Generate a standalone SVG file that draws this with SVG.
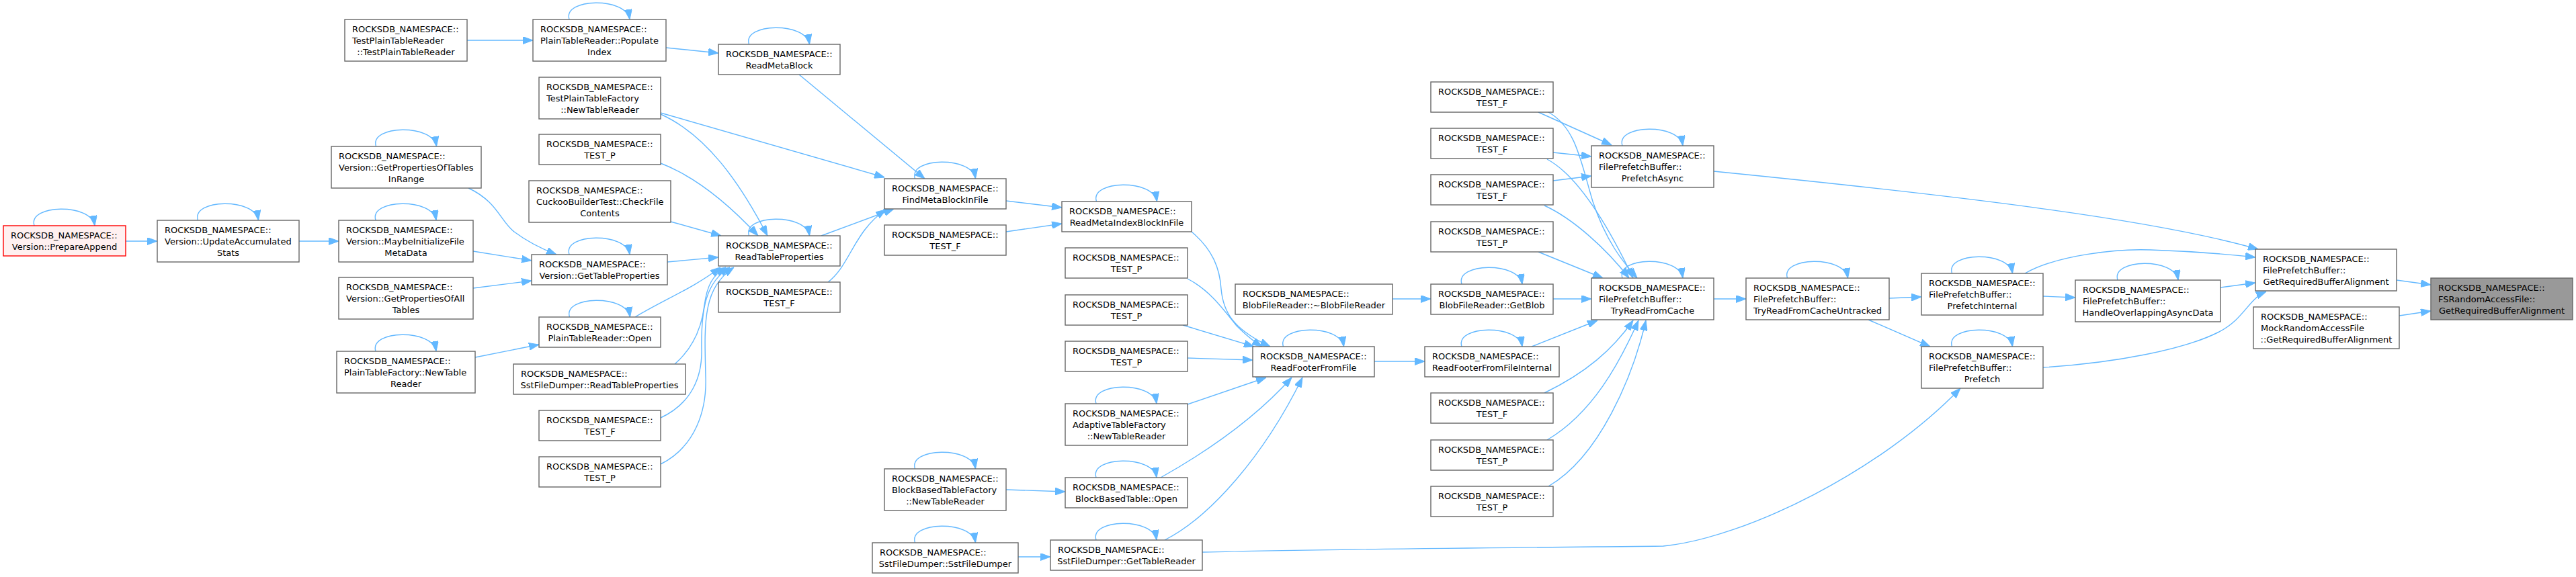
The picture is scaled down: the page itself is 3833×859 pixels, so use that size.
<svg xmlns="http://www.w3.org/2000/svg" width="3833" height="859" viewBox="0 0 3833 859">
<style>
.node rect{fill:#fff;stroke:#666;stroke-width:1.4}
.node text{font-family:"DejaVu Sans",sans-serif;font-size:13px;fill:#000;text-anchor:start}
.node text.c{text-anchor:middle}
.edge path{fill:none;stroke:#63b8ff;stroke-width:1.4;marker-end:url(#ah)}
</style>
<defs>
<marker id="ah" markerUnits="userSpaceOnUse" markerWidth="15" markerHeight="11" refX="15" refY="5.5" orient="auto">
<path d="M0,0 L15,5.5 L0,11 z" fill="#63b8ff" stroke="#63b8ff" stroke-width="1"/>
</marker>
</defs>
<rect x="0" y="0" width="3833" height="859" fill="#fff"/>
<g id="connectors" class="edge">
<path d="M187,359 L234,359"/>
<path d="M445,359 L504,359"/>
<path d="M695,60 L793,60"/>
<path d="M991,71 L1069,79"/>
<path d="M697,280 C740,300 745,330 765,345 C785,360 805,370 828,379"/>
<path d="M704,374 L791,388"/>
<path d="M704,429 L791,418"/>
<path d="M707,532 L802,513"/>
<path d="M1189,111 L1376,266"/>
<path d="M983,168 L1316,264"/>
<path d="M983,170 C1050,200 1100,270 1142,351"/>
<path d="M983,243 C1040,265 1090,310 1128,351"/>
<path d="M998,330 L1073,351"/>
<path d="M993,390 L1069,383"/>
<path d="M1222,351 L1330,311"/>
<path d="M1232,420 C1265,395 1270,345 1318,312"/>
<path d="M945,472 C990,445 1030,430 1072,398"/>
<path d="M1004,542 C1035,515 1045,480 1048,455 C1052,425 1060,410 1080,398"/>
<path d="M983,622 C1030,600 1045,560 1044,520 C1043,460 1050,420 1086,398"/>
<path d="M983,691 C1035,665 1052,610 1050,560 C1048,480 1045,430 1092,398"/>
<path d="M1497,299 L1580,309"/>
<path d="M1497,345 L1580,333"/>
<path d="M1773,345 C1805,372 1815,400 1817,430 C1820,465 1835,490 1890,516"/>
<path d="M1767,415 C1800,432 1820,460 1840,485 C1855,500 1865,508 1878,516"/>
<path d="M1760,484 L1866,516"/>
<path d="M1767,533 L1864,536"/>
<path d="M1767,602 L1884,562"/>
<path d="M1727,711 C1800,670 1870,620 1922,562"/>
<path d="M1733,804 C1800,770 1880,680 1938,562"/>
<path d="M1497,729 L1585,732"/>
<path d="M1515,829 L1563,829"/>
<path d="M1789,822 C2000,817 2400,814 2475,813 C2600,800 2800,700 2917,578"/>
<path d="M2072,445 L2129,445"/>
<path d="M2311,445 L2368,445"/>
<path d="M2045,538 L2120,538"/>
<path d="M2279,516 L2377,477"/>
<path d="M2298,585 C2360,555 2400,520 2430,477"/>
<path d="M2302,655 C2370,615 2410,540 2438,477"/>
<path d="M2304,724 C2380,680 2430,560 2449,477"/>
<path d="M2289,167 L2398,216"/>
<path d="M2304,167 C2345,190 2352,240 2370,300 C2390,360 2415,390 2436,414"/>
<path d="M2311,227 L2368,233"/>
<path d="M2302,237 C2345,260 2390,330 2430,414"/>
<path d="M2311,269 L2368,262"/>
<path d="M2298,306 C2340,325 2390,370 2424,414"/>
<path d="M2289,375 L2385,414"/>
<path d="M2550,445 L2598,445"/>
<path d="M2811,444 L2859,442"/>
<path d="M2780,476 L2872,516"/>
<path d="M3040,441 L3088,443"/>
<path d="M2550,255 C2900,290 3200,325 3360,371"/>
<path d="M3013,407 C3060,380 3150,370 3200,372 C3260,374 3310,378 3356,383"/>
<path d="M3304,428 L3356,421"/>
<path d="M3040,547 C3150,540 3250,520 3300,495 C3340,475 3345,445 3372,434"/>
<path d="M3566,417 L3617,424"/>
<path d="M3570,470 L3617,463"/>
<path d="M51,336 C41,304 136,302 141,336"/>
<path d="M294.5,328 C284.5,296 379.5,294 384.5,328"/>
<path d="M559.5,218 C549.5,186 644.5,184 649.5,218"/>
<path d="M559,328 C549,296 644,294 649,328"/>
<path d="M559,523 C549,491 644,489 649,523"/>
<path d="M847,29 C837,-3 932,-5 937,29"/>
<path d="M1114.5,66 C1104.5,34 1199.5,32 1204.5,66"/>
<path d="M847,379 C837,347 932,345 937,379"/>
<path d="M1114.5,351 C1104.5,319 1199.5,317 1204.5,351"/>
<path d="M847.5,472 C837.5,440 932.5,438 937.5,472"/>
<path d="M1361.5,266 C1351.5,234 1446.5,232 1451.5,266"/>
<path d="M1631.5,300 C1621.5,268 1716.5,266 1721.5,300"/>
<path d="M1631,601 C1621,569 1716,567 1721,601"/>
<path d="M1631,711 C1621,679 1716,677 1721,711"/>
<path d="M1361.5,698 C1351.5,666 1446.5,664 1451.5,698"/>
<path d="M1361.5,808 C1351.5,776 1446.5,774 1451.5,808"/>
<path d="M1631,804 C1621,772 1716,770 1721,804"/>
<path d="M1909.5,516 C1899.5,484 1994.5,482 1999.5,516"/>
<path d="M2175,423 C2165,391 2260,389 2265,423"/>
<path d="M2175,516 C2165,484 2260,482 2265,516"/>
<path d="M2414,217 C2404,185 2499,183 2504,217"/>
<path d="M2414,414 C2404,382 2499,380 2504,414"/>
<path d="M2659.5,414 C2649.5,382 2744.5,380 2749.5,414"/>
<path d="M2904.5,407 C2894.5,375 2989.5,373 2994.5,407"/>
<path d="M2904.5,516 C2894.5,484 2989.5,482 2994.5,516"/>
<path d="M3151,417 C3141,385 3236,383 3241,417"/>
</g>
<g id="n_prepare" class="node"><rect x="5" y="336" width="182" height="45" style="fill:#fff0f0;stroke:#f00"/><text x="16" y="355">ROCKSDB_NAMESPACE::</text><text class="c" x="96" y="372">Version::PrepareAppend</text></g>
<g id="n_updacc" class="node"><rect x="234" y="328" width="211" height="62"/><text x="245" y="347">ROCKSDB_NAMESPACE::</text><text x="245" y="364">Version::UpdateAccumulated</text><text class="c" x="339.5" y="381">Stats</text></g>
<g id="n_testptr" class="node"><rect x="513" y="29" width="182" height="62"/><text x="524" y="48">ROCKSDB_NAMESPACE::</text><text x="524" y="65">TestPlainTableReader</text><text class="c" x="604" y="82">::TestPlainTableReader</text></g>
<g id="n_gptir" class="node"><rect x="493" y="218" width="223" height="62"/><text x="504" y="237">ROCKSDB_NAMESPACE::</text><text x="504" y="254">Version::GetPropertiesOfTables</text><text class="c" x="604.5" y="271">InRange</text></g>
<g id="n_maybeinit" class="node"><rect x="504" y="328" width="200" height="62"/><text x="515" y="347">ROCKSDB_NAMESPACE::</text><text x="515" y="364">Version::MaybeInitializeFile</text><text class="c" x="604" y="381">MetaData</text></g>
<g id="n_gpoat" class="node"><rect x="504" y="413" width="200" height="62"/><text x="515" y="432">ROCKSDB_NAMESPACE::</text><text x="515" y="449">Version::GetPropertiesOfAll</text><text class="c" x="604" y="466">Tables</text></g>
<g id="n_ptfntr" class="node"><rect x="501" y="523" width="206" height="62"/><text x="512" y="542">ROCKSDB_NAMESPACE::</text><text x="512" y="559">PlainTableFactory::NewTable</text><text class="c" x="604" y="576">Reader</text></g>
<g id="n_popidx" class="node"><rect x="793" y="29" width="198" height="62"/><text x="804" y="48">ROCKSDB_NAMESPACE::</text><text x="804" y="65">PlainTableReader::Populate</text><text class="c" x="892" y="82">Index</text></g>
<g id="n_tptfntr" class="node"><rect x="802" y="115" width="181" height="62"/><text x="813" y="134">ROCKSDB_NAMESPACE::</text><text x="813" y="151">TestPlainTableFactory</text><text class="c" x="892.5" y="168">::NewTableReader</text></g>
<g id="n_testp1" class="node"><rect x="802" y="200" width="181" height="45"/><text x="813" y="219">ROCKSDB_NAMESPACE::</text><text class="c" x="892.5" y="236">TEST_P</text></g>
<g id="n_cuckoo" class="node"><rect x="787" y="269" width="211" height="62"/><text x="798" y="288">ROCKSDB_NAMESPACE::</text><text x="798" y="305">CuckooBuilderTest::CheckFile</text><text class="c" x="892.5" y="322">Contents</text></g>
<g id="n_gettp" class="node"><rect x="791" y="379" width="202" height="45"/><text x="802" y="398">ROCKSDB_NAMESPACE::</text><text class="c" x="892" y="415">Version::GetTableProperties</text></g>
<g id="n_ptropen" class="node"><rect x="802" y="472" width="181" height="45"/><text x="813" y="491">ROCKSDB_NAMESPACE::</text><text class="c" x="892.5" y="508">PlainTableReader::Open</text></g>
<g id="n_sstrtp" class="node"><rect x="764" y="542" width="256" height="45"/><text x="775" y="561">ROCKSDB_NAMESPACE::</text><text class="c" x="892" y="578">SstFileDumper::ReadTableProperties</text></g>
<g id="n_testf1" class="node"><rect x="802" y="611" width="181" height="45"/><text x="813" y="630">ROCKSDB_NAMESPACE::</text><text class="c" x="892.5" y="647">TEST_F</text></g>
<g id="n_testp2" class="node"><rect x="802" y="680" width="181" height="45"/><text x="813" y="699">ROCKSDB_NAMESPACE::</text><text class="c" x="892.5" y="716">TEST_P</text></g>
<g id="n_readmeta" class="node"><rect x="1069" y="66" width="181" height="45"/><text x="1080" y="85">ROCKSDB_NAMESPACE::</text><text class="c" x="1159.5" y="102">ReadMetaBlock</text></g>
<g id="n_readtp" class="node"><rect x="1069" y="351" width="181" height="45"/><text x="1080" y="370">ROCKSDB_NAMESPACE::</text><text class="c" x="1159.5" y="387">ReadTableProperties</text></g>
<g id="n_testf2" class="node"><rect x="1069" y="420" width="181" height="45"/><text x="1080" y="439">ROCKSDB_NAMESPACE::</text><text class="c" x="1159.5" y="456">TEST_F</text></g>
<g id="n_findmeta" class="node"><rect x="1316" y="266" width="181" height="45"/><text x="1327" y="285">ROCKSDB_NAMESPACE::</text><text class="c" x="1406.5" y="302">FindMetaBlockInFile</text></g>
<g id="n_testf3" class="node"><rect x="1316" y="335" width="181" height="45"/><text x="1327" y="354">ROCKSDB_NAMESPACE::</text><text class="c" x="1406.5" y="371">TEST_F</text></g>
<g id="n_bbtfntr" class="node"><rect x="1316" y="698" width="181" height="62"/><text x="1327" y="717">ROCKSDB_NAMESPACE::</text><text x="1327" y="734">BlockBasedTableFactory</text><text class="c" x="1406.5" y="751">::NewTableReader</text></g>
<g id="n_sstctor" class="node"><rect x="1298" y="808" width="217" height="45"/><text x="1309" y="827">ROCKSDB_NAMESPACE::</text><text class="c" x="1406.5" y="844">SstFileDumper::SstFileDumper</text></g>
<g id="n_readmib" class="node"><rect x="1580" y="300" width="193" height="45"/><text x="1591" y="319">ROCKSDB_NAMESPACE::</text><text class="c" x="1676.5" y="336">ReadMetaIndexBlockInFile</text></g>
<g id="n_testp3" class="node"><rect x="1585" y="369" width="182" height="45"/><text x="1596" y="388">ROCKSDB_NAMESPACE::</text><text class="c" x="1676" y="405">TEST_P</text></g>
<g id="n_testp4" class="node"><rect x="1585" y="439" width="182" height="45"/><text x="1596" y="458">ROCKSDB_NAMESPACE::</text><text class="c" x="1676" y="475">TEST_P</text></g>
<g id="n_testp5" class="node"><rect x="1585" y="508" width="182" height="45"/><text x="1596" y="527">ROCKSDB_NAMESPACE::</text><text class="c" x="1676" y="544">TEST_P</text></g>
<g id="n_adaptive" class="node"><rect x="1585" y="601" width="182" height="62"/><text x="1596" y="620">ROCKSDB_NAMESPACE::</text><text x="1596" y="637">AdaptiveTableFactory</text><text class="c" x="1676" y="654">::NewTableReader</text></g>
<g id="n_bbtopen" class="node"><rect x="1585" y="711" width="182" height="45"/><text x="1596" y="730">ROCKSDB_NAMESPACE::</text><text class="c" x="1676" y="747">BlockBasedTable::Open</text></g>
<g id="n_sstgtr" class="node"><rect x="1563" y="804" width="226" height="45"/><text x="1574" y="823">ROCKSDB_NAMESPACE::</text><text class="c" x="1676" y="840">SstFileDumper::GetTableReader</text></g>
<g id="n_blobdtor" class="node"><rect x="1838" y="423" width="234" height="45"/><text x="1849" y="442">ROCKSDB_NAMESPACE::</text><text class="c" x="1955" y="459">BlobFileReader::~BlobFileReader</text></g>
<g id="n_readfooter" class="node"><rect x="1864" y="516" width="181" height="45"/><text x="1875" y="535">ROCKSDB_NAMESPACE::</text><text class="c" x="1954.5" y="552">ReadFooterFromFile</text></g>
<g id="n_testf4" class="node"><rect x="2129" y="122" width="182" height="45"/><text x="2140" y="141">ROCKSDB_NAMESPACE::</text><text class="c" x="2220" y="158">TEST_F</text></g>
<g id="n_testf5" class="node"><rect x="2129" y="191" width="182" height="45"/><text x="2140" y="210">ROCKSDB_NAMESPACE::</text><text class="c" x="2220" y="227">TEST_F</text></g>
<g id="n_testf6" class="node"><rect x="2129" y="260" width="182" height="45"/><text x="2140" y="279">ROCKSDB_NAMESPACE::</text><text class="c" x="2220" y="296">TEST_F</text></g>
<g id="n_testp6" class="node"><rect x="2129" y="330" width="182" height="45"/><text x="2140" y="349">ROCKSDB_NAMESPACE::</text><text class="c" x="2220" y="366">TEST_P</text></g>
<g id="n_getblob" class="node"><rect x="2129" y="423" width="182" height="45"/><text x="2140" y="442">ROCKSDB_NAMESPACE::</text><text class="c" x="2220" y="459">BlobFileReader::GetBlob</text></g>
<g id="n_rffi" class="node"><rect x="2120" y="516" width="200" height="45"/><text x="2131" y="535">ROCKSDB_NAMESPACE::</text><text class="c" x="2220" y="552">ReadFooterFromFileInternal</text></g>
<g id="n_testf7" class="node"><rect x="2129" y="585" width="182" height="45"/><text x="2140" y="604">ROCKSDB_NAMESPACE::</text><text class="c" x="2220" y="621">TEST_F</text></g>
<g id="n_testp7" class="node"><rect x="2129" y="655" width="182" height="45"/><text x="2140" y="674">ROCKSDB_NAMESPACE::</text><text class="c" x="2220" y="691">TEST_P</text></g>
<g id="n_testp8" class="node"><rect x="2129" y="724" width="182" height="45"/><text x="2140" y="743">ROCKSDB_NAMESPACE::</text><text class="c" x="2220" y="760">TEST_P</text></g>
<g id="n_pfasync" class="node"><rect x="2368" y="217" width="182" height="62"/><text x="2379" y="236">ROCKSDB_NAMESPACE::</text><text x="2379" y="253">FilePrefetchBuffer::</text><text class="c" x="2459" y="270">PrefetchAsync</text></g>
<g id="n_trfc" class="node"><rect x="2368" y="414" width="182" height="62"/><text x="2379" y="433">ROCKSDB_NAMESPACE::</text><text x="2379" y="450">FilePrefetchBuffer::</text><text class="c" x="2459" y="467">TryReadFromCache</text></g>
<g id="n_trfcu" class="node"><rect x="2598" y="414" width="213" height="62"/><text x="2609" y="433">ROCKSDB_NAMESPACE::</text><text x="2609" y="450">FilePrefetchBuffer::</text><text class="c" x="2704.5" y="467">TryReadFromCacheUntracked</text></g>
<g id="n_pfinternal" class="node"><rect x="2859" y="407" width="181" height="62"/><text x="2870" y="426">ROCKSDB_NAMESPACE::</text><text x="2870" y="443">FilePrefetchBuffer::</text><text class="c" x="2949.5" y="460">PrefetchInternal</text></g>
<g id="n_prefetch" class="node"><rect x="2859" y="516" width="181" height="62"/><text x="2870" y="535">ROCKSDB_NAMESPACE::</text><text x="2870" y="552">FilePrefetchBuffer::</text><text class="c" x="2949.5" y="569">Prefetch</text></g>
<g id="n_handle" class="node"><rect x="3088" y="417" width="216" height="62"/><text x="3099" y="436">ROCKSDB_NAMESPACE::</text><text x="3099" y="453">FilePrefetchBuffer::</text><text class="c" x="3196" y="470">HandleOverlappingAsyncData</text></g>
<g id="n_grba" class="node"><rect x="3356" y="371" width="210" height="62"/><text x="3367" y="390">ROCKSDB_NAMESPACE::</text><text x="3367" y="407">FilePrefetchBuffer::</text><text class="c" x="3461" y="424">GetRequiredBufferAlignment</text></g>
<g id="n_mock" class="node"><rect x="3353" y="457" width="217" height="62"/><text x="3364" y="476">ROCKSDB_NAMESPACE::</text><text x="3364" y="493">MockRandomAccessFile</text><text class="c" x="3461.5" y="510">::GetRequiredBufferAlignment</text></g>
<g id="n_fsraf" class="node"><rect x="3617" y="414" width="211" height="62" style="fill:#999;stroke:#666"/><text x="3628" y="433">ROCKSDB_NAMESPACE::</text><text x="3628" y="450">FSRandomAccessFile::</text><text class="c" x="3722.5" y="467">GetRequiredBufferAlignment</text></g>
</svg>
